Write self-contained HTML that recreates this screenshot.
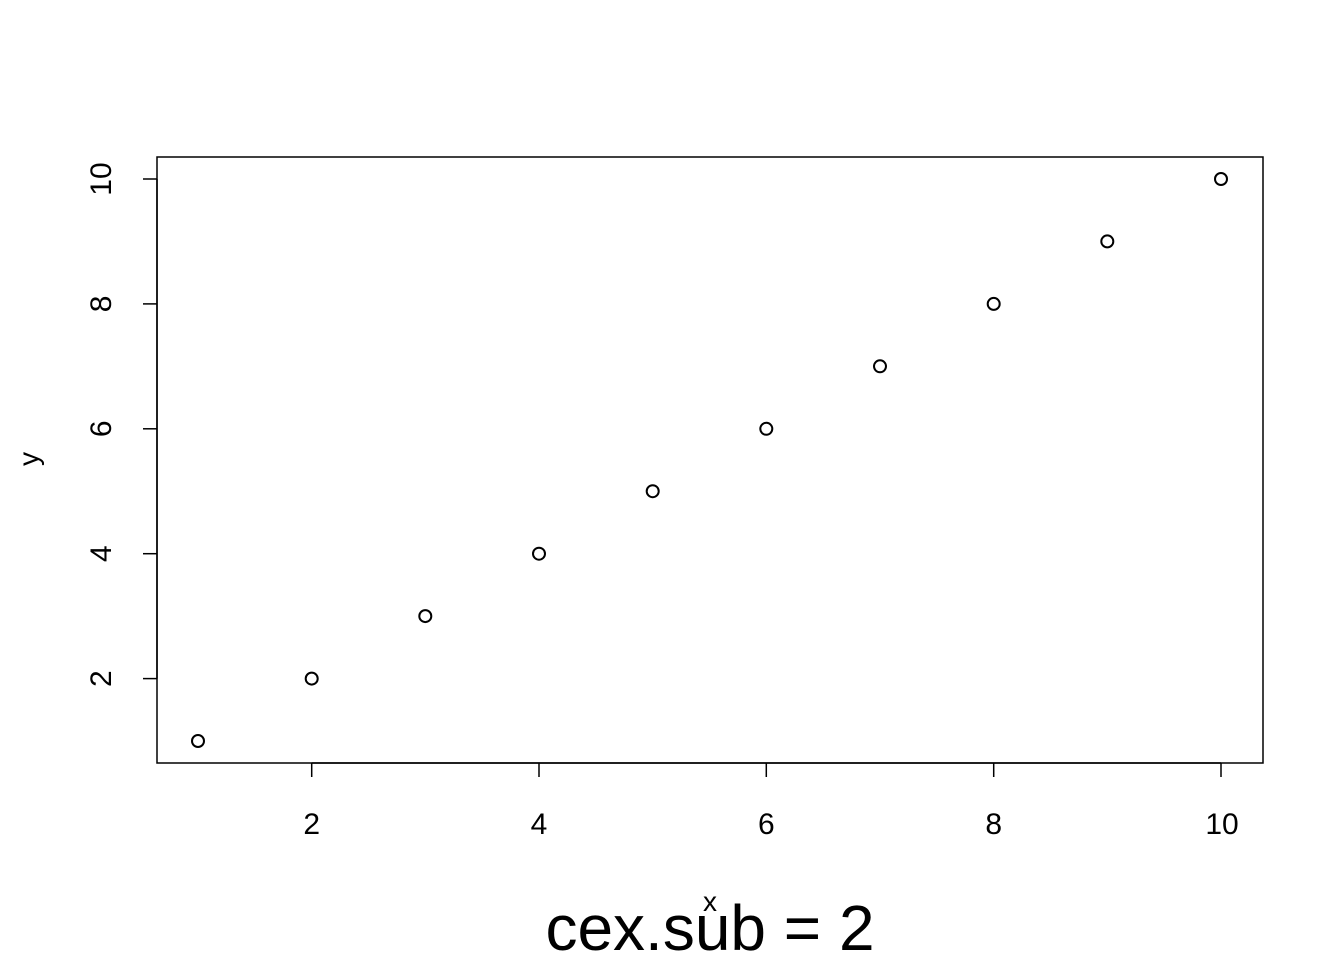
<!DOCTYPE html>
<html><head><meta charset="utf-8"><style>body{margin:0;background:#fff}</style></head><body>
<svg width="1344" height="960" xmlns="http://www.w3.org/2000/svg" font-family="Liberation Sans, Arial, sans-serif">
<rect width="1344" height="960" fill="#fff"/>
<rect x="157" y="157" width="1106" height="606" fill="none" stroke="#000" stroke-width="1.5"/>
<g stroke="#000" stroke-width="1.5">
<line x1="311.7" y1="763" x2="311.7" y2="777"/>
<line x1="539" y1="763" x2="539" y2="777"/>
<line x1="766.3" y1="763" x2="766.3" y2="777"/>
<line x1="993.7" y1="763" x2="993.7" y2="777"/>
<line x1="1221" y1="763" x2="1221" y2="777"/>
<line x1="311.7" y1="763" x2="1221" y2="763"/>
<line x1="157" y1="678.6" x2="143" y2="678.6"/>
<line x1="157" y1="553.7" x2="143" y2="553.7"/>
<line x1="157" y1="428.8" x2="143" y2="428.8"/>
<line x1="157" y1="303.9" x2="143" y2="303.9"/>
<line x1="157" y1="179" x2="143" y2="179"/>
<line x1="157" y1="179" x2="157" y2="678.6"/>
</g>
<g font-size="30" text-anchor="middle" fill="#000">
<text x="311.7" y="834">2</text>
<text x="539" y="834">4</text>
<text x="766.3" y="834">6</text>
<text x="993.7" y="834">8</text>
<text x="1222" y="834">10</text>
<text transform="translate(111,678.6) rotate(-90)">2</text>
<text transform="translate(111,553.7) rotate(-90)">4</text>
<text transform="translate(111,428.8) rotate(-90)">6</text>
<text transform="translate(111,303.9) rotate(-90)">8</text>
<text transform="translate(111,179) rotate(-90)">10</text>
<text transform="translate(38,459) rotate(-90)" font-size="28">y</text>
<text x="710" y="911" font-size="28">x</text>
<text x="710" y="950" font-size="64">cex.sub = 2</text>
</g>
<g fill="none" stroke="#000" stroke-width="2">
<circle cx="198" cy="741" r="6"/>
<circle cx="311.7" cy="678.6" r="6"/>
<circle cx="425.3" cy="616.1" r="6"/>
<circle cx="539" cy="553.7" r="6"/>
<circle cx="652.7" cy="491.2" r="6"/>
<circle cx="766.3" cy="428.8" r="6"/>
<circle cx="880" cy="366.3" r="6"/>
<circle cx="993.7" cy="303.9" r="6"/>
<circle cx="1107.3" cy="241.4" r="6"/>
<circle cx="1221" cy="179" r="6"/>
</g>
</svg>
</body></html>
